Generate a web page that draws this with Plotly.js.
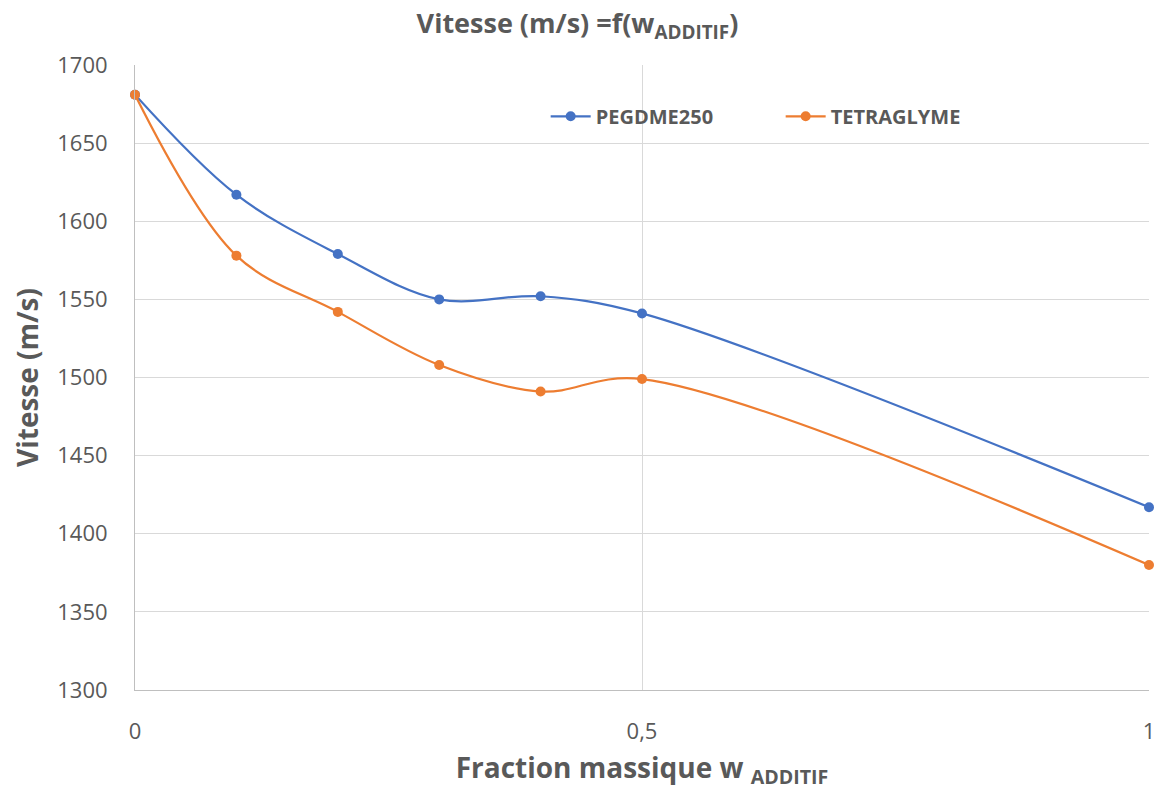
<!DOCTYPE html>
<html>
<head>
<meta charset="utf-8">
<script src="https://cdn.plot.ly/plotly-3.0.1.min.js"></script>
<style>
  html, body { margin: 0; padding: 0; background: #fff; }
  #chart { width: 1155px; height: 790px; }
</style>
</head>
<body>
<div id="chart"></div>
<script>
const fractions = [0, 0.1, 0.2, 0.3, 0.4, 0.5, 1];
const pegdme250 = [1681, 1617, 1579, 1550, 1552, 1541, 1417];
const tetraglyme = [1681, 1578, 1542, 1508, 1491, 1499, 1380];

const font = "Open Sans, Liberation Sans, sans-serif";
const grey = "#595959";

function serie(name, y, color) {
    return {
        x: fractions,
        y: y,
        name: name,
        type: "scatter",
        mode: "lines+markers",
        line: {color: color, width: 2.25, shape: "spline", smoothing: 1},
        marker: {color: color, size: 10},
        cliponaxis: false
    };
}

const traces = [
    serie("PEGDME250", pegdme250, "#4472C4"),
    serie("TETRAGLYME", tetraglyme, "#ED7D31")
];

const layout = {
    width: 1155,
    height: 790,
    separators: ", ",
    paper_bgcolor: "#fff",
    plot_bgcolor: "#fff",
    font: {family: font, color: grey},
    margin: {t: 65, r: 6, b: 100, l: 135},
    title: {
        text: "<b>Vitesse (m/s) =f(w<sub>ADDITIF</sub>)</b>",
        font: {size: 27, color: grey},
        x: 0.5, xanchor: "center", y: 0.97, yanchor: "middle"
    },
    xaxis: {
        range: [0, 1],
        dtick: 0.5,
        tick0: 0,
        showgrid: true,
        gridcolor: "#d9d9d9",
        showline: true,
        linecolor: "#bfbfbf",
        linewidth: 1,
        zeroline: false,
        ticks: "",
        ticklabelstandoff: 22,
        ticklabeloverflow: "allow",
        tickfont: {size: 22, color: grey},
        title: {text: "<b>Fraction massique w <sub>ADDITIF</sub></b>", font: {size: 28, color: grey}, standoff: 14}
    },
    yaxis: {
        range: [1300, 1700],
        dtick: 50,
        showgrid: true,
        gridcolor: "#d9d9d9",
        showline: true,
        linecolor: "#bfbfbf",
        linewidth: 1,
        zeroline: false,
        ticks: "",
        ticklabelstandoff: 22,
        tickfont: {size: 22, color: grey},
        title: {text: "<b>Vitesse (m/s)</b>", font: {size: 28, color: grey}, standoff: 10}
    },
    legend: {
        orientation: "h",
        x: 0.405, xanchor: "left",
        y: 0.918, yanchor: "middle",
        font: {size: 20, color: grey, family: font, weight: "bold"},
        bgcolor: "rgba(0,0,0,0)",
        entrywidth: 180,
        itemwidth: 40
    }
};

Plotly.newPlot("chart", traces, layout, {displayModeBar: false});
</script>
</body>
</html>
